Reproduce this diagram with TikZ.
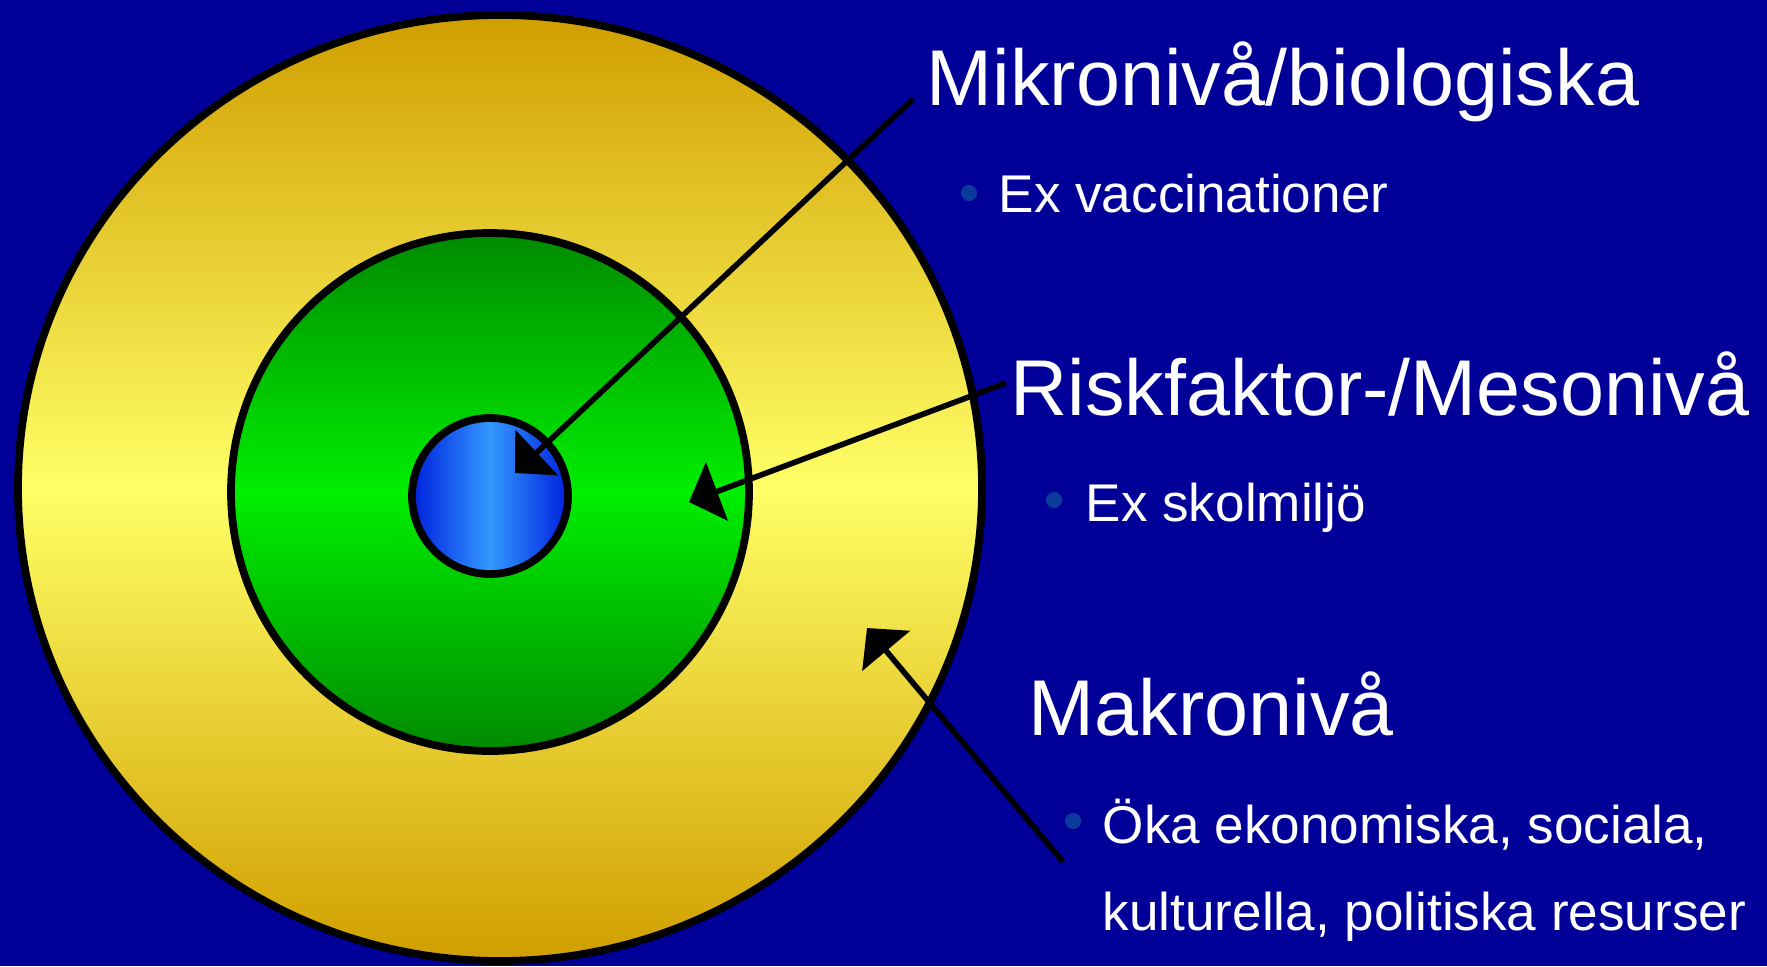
\documentclass[tikz,border=0pt]{standalone}
\usepackage{fontspec}
\setmainfont{Liberation Sans}
\usetikzlibrary{arrows.meta}
\definecolor{slidebg}{HTML}{000099}
\definecolor{gold}{HTML}{D09E00}
\definecolor{paleyellow}{HTML}{FFFF66}
\definecolor{darkgreen}{HTML}{008A00}
\definecolor{brightgreen}{HTML}{00EE00}
\definecolor{deepblue}{HTML}{0020DD}
\definecolor{lightblue}{HTML}{3399FF}
\definecolor{bulletblue}{HTML}{0A3A9A}

\begin{document}
\begin{tikzpicture}[x=0.01cm,y=-0.01cm,
  ring/.style={draw=black,line width=2.2pt},
  pointer/.style={line width=1.6pt,-{Triangle[length=8.5pt,width=17.5pt]}},
  level/.style={anchor=base west,text=white,inner sep=0pt,font=\fontsize{22.5}{27}\selectfont},
  example/.style={anchor=base west,text=white,inner sep=0pt,font=\fontsize{15.1}{18}\selectfont},
  dot/.style={circle,fill=bulletblue,inner sep=0pt,minimum size=4.6pt}]
  \fill[slidebg] (0,0) rectangle (1767,966);
  \useasboundingbox (0,0) rectangle (1767,966);
  % rings
  \shade[ring,top color=gold,bottom color=gold,middle color=paleyellow] (500,488) ellipse [x radius=482, y radius=473];
  \shade[ring,top color=darkgreen,bottom color=darkgreen,middle color=brightgreen] (490,492) circle [radius=259];
  \shade[ring,left color=deepblue,right color=deepblue,middle color=lightblue] (490,496) circle [radius=78];
  % labels
  \node[level] (micro) at (926,105) {Mikronivå/biologiska};
  \node[dot] (microdot) at (969,193) {}; \node[example] (microex) at (998,212) {Ex vaccinationer};
  \node[level] (meso) at (1010,415) {Riskfaktor-/Mesonivå};
  \node[dot] (mesodot) at (1054,500) {}; \node[example] (mesoex) at (1085,521) {Ex skolmiljö};
  \node[level] (macro) at (1028,735) {Makronivå};
  \node[dot] (macrodot) at (1073,821) {}; \node[example] (macroex) at (1102,843) {Öka ekonomiska, sociala,};
  \node[example] (macroex2) at (1102,930) {kulturella, politiska resurser};
  % pointers
  \coordinate (microstart) at (913,99); \coordinate (microtip) at (515,473);
  \coordinate (mesostart) at (1006,383); \coordinate (mesotip) at (689,502);
  \coordinate (macrostart) at (1063,862); \coordinate (macrotip) at (867,628);
  \draw[pointer] (microstart) -- (microtip);
  \draw[pointer] (mesostart) -- (mesotip);
  \draw[pointer] (macrostart) -- (macrotip);
\end{tikzpicture}
\end{document}
